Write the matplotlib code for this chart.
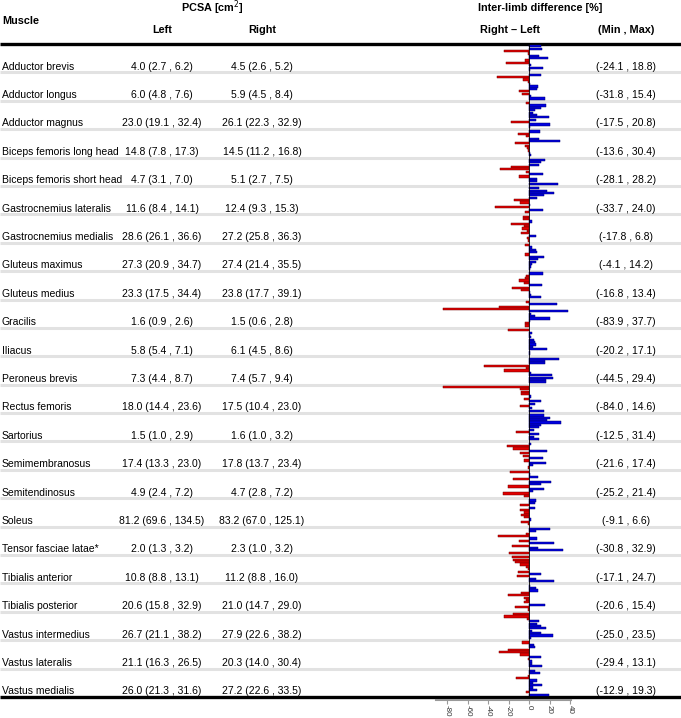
import numpy as np
import matplotlib.pyplot as plt

plt.rcParams['font.family'] = ['Liberation Sans', 'DejaVu Sans']
plt.rcParams['axes.unicode_minus'] = False

muscles = ['Adductor brevis', 'Adductor longus', 'Adductor magnus',
           'Biceps femoris long head', 'Biceps femoris short head',
           'Gastrocnemius lateralis', 'Gastrocnemius medialis',
           'Gluteus maximus', 'Gluteus medius', 'Gracilis', 'Iliacus',
           'Peroneus brevis', 'Rectus femoris', 'Sartorius',
           'Semimembranosus', 'Semitendinosus', 'Soleus',
           'Tensor fasciae latae*', 'Tibialis anterior', 'Tibialis posterior',
           'Vastus intermedius', 'Vastus lateralis', 'Vastus medialis']

pcsa_left = ['4.0 (2.7 , 6.2)', '6.0 (4.8 , 7.6)', '23.0 (19.1 , 32.4)',
             '14.8 (7.8 , 17.3)', '4.7 (3.1 , 7.0)', '11.6 (8.4 , 14.1)',
             '28.6 (26.1 , 36.6)', '27.3 (20.9 , 34.7)', '23.3 (17.5 , 34.4)',
             '1.6 (0.9 , 2.6)', '5.8 (5.4 , 7.1)', '7.3 (4.4 , 8.7)',
             '18.0 (14.4 , 23.6)', '1.5 (1.0 , 2.9)', '17.4 (13.3 , 23.0)',
             '4.9 (2.4 , 7.2)', '81.2 (69.6 , 134.5)', '2.0 (1.3 , 3.2)',
             '10.8 (8.8 , 13.1)', '20.6 (15.8 , 32.9)', '26.7 (21.1 , 38.2)',
             '21.1 (16.3 , 26.5)', '26.0 (21.3 , 31.6)']

pcsa_right = ['4.5 (2.6 , 5.2)', '5.9 (4.5 , 8.4)', '26.1 (22.3 , 32.9)',
              '14.5 (11.2 , 16.8)', '5.1 (2.7 , 7.5)', '12.4 (9.3 , 15.3)',
              '27.2 (25.8 , 36.3)', '27.4 (21.4 , 35.5)', '23.8 (17.7 , 39.1)',
              '1.5 (0.6 , 2.8)', '6.1 (4.5 , 8.6)', '7.4 (5.7 , 9.4)',
              '17.5 (10.4 , 23.0)', '1.6 (1.0 , 3.2)', '17.8 (13.7 , 23.4)',
              '4.7 (2.8 , 7.2)', '83.2 (67.0 , 125.1)', '2.3 (1.0 , 3.2)',
              '11.2 (8.8 , 16.0)', '21.0 (14.7 , 29.0)', '27.9 (22.6 , 38.2)',
              '20.3 (14.0 , 30.4)', '27.2 (22.6 , 33.5)']

min_max = ['(-24.1 , 18.8)', '(-31.8 , 15.4)', '(-17.5 , 20.8)',
           '(-13.6 , 30.4)', '(-28.1 , 28.2)', '(-33.7 , 24.0)',
           '(-17.8 , 6.8)', '(-4.1 , 14.2)', '(-16.8 , 13.4)',
           '(-83.9 , 37.7)', '(-20.2 , 17.1)', '(-44.5 , 29.4)',
           '(-84.0 , 14.6)', '(-12.5 , 31.4)', '(-21.6 , 17.4)',
           '(-25.2 , 21.4)', '(-9.1 , 6.6)', '(-30.8 , 32.9)',
           '(-17.1 , 24.7)', '(-20.6 , 15.4)', '(-25.0 , 23.5)',
           '(-29.4 , 13.1)', '(-12.9 , 19.3)']

# right - left difference per subject [%], top to bottom within each row
diffs = [
    [12, 13, -24.1, -1, 10, 18.8, -4, -23, 2, 14, 0.5],
    [12, -31.8, -6, -1, 0.5, 9, 8, -10, -7, 2, 15.4],
    [-3, 17, 12, 6, 4, 8, 19, 7, -17.5, 20.8, 1],
    [11, -11, -3, 10, 30.4, -13.6, -4, -2, -1, 1, 2],
    [16, 12, 10, -18, -28.1, -3, 14, -10, 8, 8, 28.2],
    [10, 18, 24.0, 15, 8, -15, -9, 0.5, -33.7, 14, -4],
    [-6, -6, 3, -17.8, -5, -7, -2, -8, 6.8, -2, -1],
    [-4.1, 3, 7, 8, -4, 14.2, 9, 7, 3, 2, 1],
    [13.4, -3, -4, -10, -5, 13, -16.8, -8, 1, 2, 12],
    [-3, 27, -29, -83.9, 37.7, 2, 6, 20, 1, -4, -4],
    [-20.2, 3, 0.5, 2, 5, 6, 7, 4, 17.1, 1, 0.5],
    [29.4, 16, 16, -44.5, -3, -25, 2, 22, 23, 17, 17],
    [-84.0, -9, -8, -8, 2, -5, 12, 6, -9, 3, 14.6],
    [15, 20, 18, 31.4, 12, 10, 5, -12.5, 10, 5, 10],
    [2, -21.6, -16, 17.4, -9, -6, 14, -5, 17, 4, -1],
    [-19, 0.5, 9, -16, 21.4, 12, -21, 15, 4, -25.2, -5],
    [6.6, 6, -9.1, 6, -9, -5, -8, -5, 2, -8, -1],
    [20, 7, -3, -30.8, 8, -10, 24, -17, 9, 32.9, -20],
    [-17.1, -16, -14, -9, -3, -1, -11, 12, -12, 7, 24.7],
    [1, 7, 9, -8, -20.6, -5, -3, -5, 15.4, -14, -1],
    [-16, -25.0, -2, 10, 8, 12, 17, 3, 12, 23.5, 2],
    [-7, 5, 6, -21, -29.4, -9, 12, -1, 3, 3, 13.1],
    [6, 11, -1, -12.9, 8, 4, 13, 4, 8, -3, 19.3],
]

W, H = 681, 718
top, bottom = 44, 697
n = len(muscles)
row_h = (bottom - top) / n

fig = plt.figure(figsize=(W / 100, H / 100), dpi=100)
ax = fig.add_axes([0, 0, 1, 1])
ax.set_xlim(0, W)
ax.set_ylim(H, 0)
ax.axis('off')

hs = 7.8   # header size
fs = 7.5   # body size
# header
ax.text(2, 21, 'Muscle', fontsize=hs, fontweight='bold', va='center')
ax.text(212, 8, 'PCSA [cm$^2$]', fontsize=hs, fontweight='bold', va='center', ha='center')
ax.text(540, 8, 'Inter-limb difference [%]', fontsize=hs, fontweight='bold', va='center', ha='center')
ax.text(162, 30, 'Left', fontsize=hs, fontweight='bold', va='center', ha='center')
ax.text(262, 30, 'Right', fontsize=hs, fontweight='bold', va='center', ha='center')
ax.text(510, 30, 'Right \u2013 Left', fontsize=hs, fontweight='bold', va='center', ha='center')
ax.text(626, 30, '(Min , Max)', fontsize=hs, fontweight='bold', va='center', ha='center')

# row separators
for i in range(1, n):
    y = top + i * row_h
    ax.plot([0, W], [y, y], color='#e2e2e2', lw=2.2, solid_capstyle='butt', zorder=1)
ax.plot([0, W], [top, top], color='black', lw=2.4, solid_capstyle='butt', zorder=3)
ax.plot([0, W], [bottom, bottom], color='black', lw=2.4, solid_capstyle='butt', zorder=3)

for i in range(n):
    y = top + i * row_h + row_h * 0.8
    ax.text(2, y, muscles[i], fontsize=fs, va='center')
    ax.text(162, y, pcsa_left[i], fontsize=fs, va='center', ha='center')
    ax.text(262, y, pcsa_right[i], fontsize=fs, va='center', ha='center')
    ax.text(626, y, min_max[i], fontsize=fs, va='center', ha='center')

# bar panel
x0, x1 = -91.0, 41.0
px0, px1 = 436, 571
bx = fig.add_axes([px0 / W, (H - bottom) / H, (px1 - px0) / W, (bottom - top) / H])
bx.patch.set_alpha(0)
for i, row in enumerate(diffs):
    k = len(row)
    ys = i + 0.04 + (np.arange(k) + 0.5) * 0.92 / k
    vals = np.array(row)
    neg = vals < 0
    cols = np.where(neg, '#e00000', '#0000e0')
    edges = np.where(neg, '#700000', '#000070')
    bx.barh(ys, vals, height=0.92 / k * 0.92, color=cols, edgecolor=edges, linewidth=0.35)
bx.axvline(0, color='black', lw=0.6)
bx.set_xlim(x0, x1)
bx.set_ylim(n, 0)
bx.set_yticks([])
for s in ['top', 'left', 'right']:
    bx.spines[s].set_visible(False)
bx.spines['bottom'].set_position(('outward', 2))
bx.spines['bottom'].set_color('#999999')
bx.spines['bottom'].set_linewidth(1.5)
bx.set_xticks([-80, -60, -40, -20, 0, 20, 40])
bx.tick_params(axis='x', colors='#999999', length=3, labelsize=5.8, labelcolor='#333333',
               labelrotation=270, pad=1)

fig.savefig('out.png', dpi=100)
